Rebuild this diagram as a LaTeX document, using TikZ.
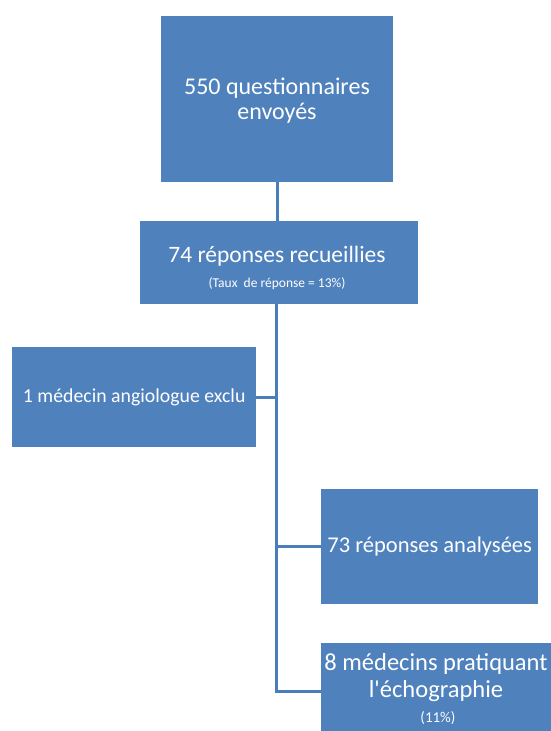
\documentclass[tikz,border=0pt]{standalone}
\usepackage{fontspec}
\setmainfont{Carlito}
\definecolor{boxblue}{HTML}{4F81BD}
\definecolor{lineblue}{HTML}{4A7EBB}
\begin{document}
\begin{tikzpicture}[x=1pt,y=-1pt,
  bx/.style={fill=boxblue,draw=none,text=white,align=center,inner sep=0pt,anchor=north west},
  txt/.style={text=white,inner sep=0pt,anchor=base},
  conn/.style={draw=lineblue,line width=3pt}]
\useasboundingbox (0,0) rectangle (551,731);
\clip (0,0) rectangle (551,731);
\node[bx,minimum width=232pt,minimum height=166pt] (n1) at (161,16) {};
\node[txt,font=\fontsize{24}{25}\selectfont] (n1a) at (277,94) {550 questionnaires};
\node[txt,font=\fontsize{24}{25}\selectfont] (n1b) at (277,119) {envoyés};
\node[bx,minimum width=278pt,minimum height=83pt] (n2) at (140,221) {};
\node[txt,font=\fontsize{23.5}{26}\selectfont] (n2a) at (277,262) {74 réponses recueillies};
\node[txt,font=\fontsize{13.5}{14}\selectfont] (n2b) at (277,287) {(Taux\ \ de réponse = 13\%)};
\node[bx,minimum width=244pt,minimum height=100pt,font=\fontsize{19.8}{22}\selectfont] (n3) at (12,347) {1 médecin angiologue exclu};
\node[bx,minimum width=217pt,minimum height=115pt,font=\fontsize{22.5}{24}\selectfont] (n4) at (321,489) {73 réponses analysées};
\node[bx,minimum width=230pt,minimum height=92pt] (n5) at (321,643) {};
\node[txt,font=\fontsize{24.5}{26}\selectfont] (n5a) at (436,670) {8 médecins pratiquant};
\node[txt,font=\fontsize{24.5}{26}\selectfont] (n5b) at (436,697) {l\textquotesingle échographie};
\node[txt,font=\fontsize{15}{16}\selectfont] (n5c) at (438,722) {(11\%)};
\coordinate (tb) at (276,691);
\draw[conn] (n1.south -| 277,0) -- (n2.north -| 277,0);
\draw[conn] (n2.south -| 276,0) -- (tb) -- (tb -| n5.west);
\draw[conn] (n3.east) -- (n3.east -| 276,0);
\draw[conn] (n4.west) -- (n4.west -| 276,0);
\end{tikzpicture}
\end{document}
